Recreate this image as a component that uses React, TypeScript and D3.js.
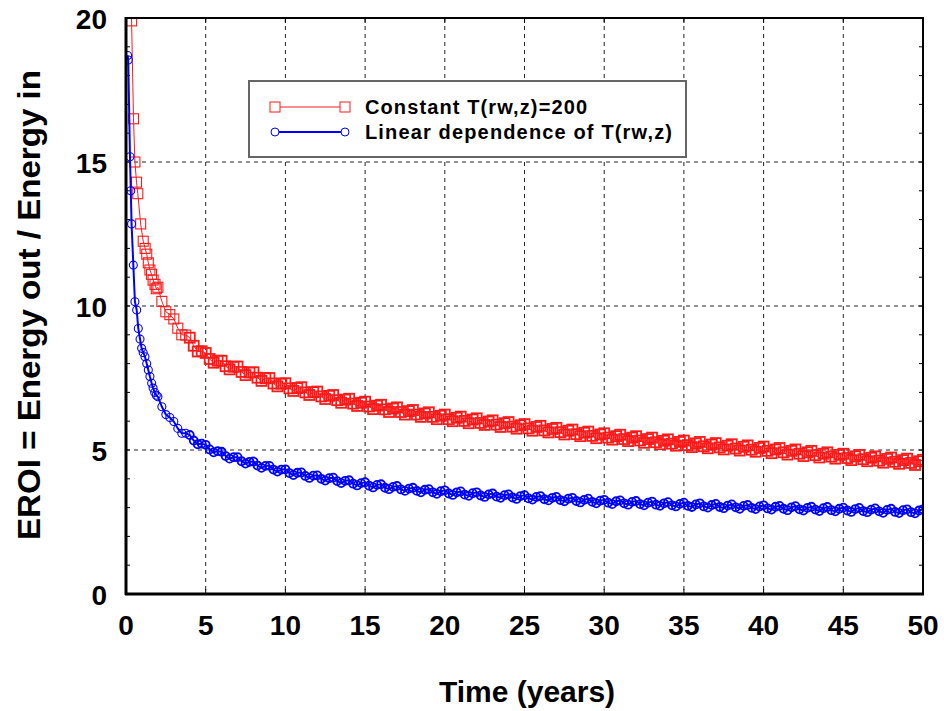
import React from "react";
import * as d3 from "d3";

// early samples
const redEarlyYears = [0.3, 0.35, 0.47, 0.56, 0.66, 0.74, 0.92, 1.08, 1.2, 1.3, 1.4, 1.5, 1.6, 1.7, 1.82, 1.9];
const redEarlyEroi = [21, 19.9, 16.5, 15.0, 14.3, 13.9, 12.85, 12.25, 12.0, 11.8, 11.5, 11.25, 11.1, 10.9, 10.75, 10.6];

const blueEarlyYears = [0.1, 0.14, 0.25, 0.3, 0.35, 0.46, 0.56, 0.67, 0.77, 0.88, 0.98, 1.08, 1.19, 1.3, 1.4, 1.5, 1.61, 1.7, 1.8, 1.9];
const blueEarlyEroi = [18.7, 18.54, 15.18, 14.0, 12.85, 11.42, 10.15, 9.86, 9.22, 8.85, 8.53, 8.38, 8.24, 8.0, 7.78, 7.55, 7.32, 7.15, 7.0, 6.9];

// quarterly samples from year 2 to year 50
const tailStartYear = 2;
const tailStepYears = 0.25;

const redTailEroi = [
  10.65, 10.16, 9.8, 9.7, 9.55, 9.23, 9.0, 8.99, 8.9, 8.62, 8.42, 8.43, 8.37, 8.16, 8.03, 8.1,
  8.1, 7.91, 7.8, 7.89, 7.9, 7.71, 7.6, 7.69, 7.7, 7.51, 7.4, 7.49, 7.5, 7.31, 7.21, 7.3,
  7.32, 7.14, 7.05, 7.15, 7.18, 7.0, 6.91, 7.01, 7.03, 6.86, 6.77, 6.88, 6.91, 6.73, 6.64, 6.75,
  6.78, 6.61, 6.53, 6.64, 6.68, 6.51, 6.42, 6.54, 6.57, 6.41, 6.32, 6.44, 6.48, 6.32, 6.23, 6.35,
  6.39, 6.23, 6.15, 6.27, 6.31, 6.15, 6.07, 6.19, 6.23, 6.07, 6.0, 6.12, 6.16, 6.01, 5.93, 6.06,
  6.1, 5.94, 5.87, 5.99, 6.03, 5.88, 5.8, 5.93, 5.97, 5.81, 5.74, 5.86, 5.9, 5.75, 5.67, 5.8,
  5.84, 5.68, 5.61, 5.73, 5.77, 5.62, 5.54, 5.67, 5.71, 5.55, 5.48, 5.6, 5.64, 5.49, 5.41, 5.54,
  5.58, 5.43, 5.36, 5.48, 5.53, 5.38, 5.31, 5.43, 5.48, 5.33, 5.25, 5.38, 5.43, 5.27, 5.2, 5.32,
  5.37, 5.22, 5.15, 5.28, 5.33, 5.17, 5.1, 5.23, 5.28, 5.13, 5.06, 5.19, 5.24, 5.09, 5.02, 5.15,
  5.2, 5.05, 4.98, 5.11, 5.16, 5.01, 4.94, 5.07, 5.12, 4.97, 4.89, 5.02, 5.07, 4.92, 4.84, 4.97,
  5.02, 4.87, 4.79, 4.92, 4.97, 4.82, 4.74, 4.87, 4.92, 4.77, 4.7, 4.83, 4.87, 4.72, 4.65, 4.78,
  4.83, 4.68, 4.61, 4.73, 4.78, 4.63, 4.56, 4.69, 4.74, 4.59, 4.52, 4.65, 4.7, 4.55, 4.48, 4.61,
  4.66,
];

const blueTailEroi = [
  6.85, 6.5, 6.23, 6.13, 5.99, 5.75, 5.58, 5.58, 5.52, 5.33, 5.2, 5.22, 5.18, 5.02, 4.92, 4.96,
  4.94, 4.79, 4.7, 4.75, 4.75, 4.61, 4.53, 4.59, 4.6, 4.46, 4.38, 4.45, 4.45, 4.32, 4.25, 4.32,
  4.33, 4.2, 4.13, 4.21, 4.22, 4.1, 4.03, 4.11, 4.12, 4.0, 3.94, 4.02, 4.04, 3.92, 3.85, 3.93,
  3.95, 3.83, 3.77, 3.85, 3.88, 3.76, 3.7, 3.79, 3.81, 3.69, 3.64, 3.72, 3.75, 3.63, 3.58, 3.66,
  3.69, 3.58, 3.53, 3.62, 3.64, 3.53, 3.48, 3.57, 3.6, 3.49, 3.44, 3.53, 3.56, 3.45, 3.41, 3.5,
  3.53, 3.42, 3.37, 3.46, 3.49, 3.38, 3.34, 3.43, 3.46, 3.35, 3.3, 3.4, 3.43, 3.32, 3.28, 3.37,
  3.4, 3.29, 3.25, 3.34, 3.37, 3.26, 3.22, 3.31, 3.34, 3.23, 3.18, 3.27, 3.31, 3.2, 3.15, 3.24,
  3.27, 3.17, 3.12, 3.22, 3.25, 3.15, 3.1, 3.2, 3.23, 3.12, 3.08, 3.17, 3.21, 3.1, 3.06, 3.15,
  3.19, 3.08, 3.04, 3.13, 3.17, 3.06, 3.02, 3.11, 3.15, 3.04, 3.0, 3.09, 3.13, 3.02, 2.98, 3.07,
  3.11, 3.01, 2.96, 3.06, 3.09, 2.99, 2.95, 3.04, 3.08, 2.97, 2.93, 3.03, 3.06, 2.96, 2.91, 3.01,
  3.05, 2.94, 2.9, 2.99, 3.03, 2.93, 2.88, 2.98, 3.02, 2.91, 2.87, 2.96, 3.0, 2.9, 2.85, 2.95,
  2.99, 2.88, 2.84, 2.93, 2.97, 2.87, 2.82, 2.92, 2.96, 2.85, 2.81, 2.91, 2.94, 2.84, 2.8, 2.9,
  2.94,
];

const xTicks = [0, 5, 10, 15, 20, 25, 30, 35, 40, 45, 50];
const yTicks = [0, 5, 10, 15, 20];
const yMinorTicks = [1, 2, 3, 4, 6, 7, 8, 9, 11, 12, 13, 14, 16, 17, 18, 19];

const legendLabels = ["Constant T(rw,z)=200", "Linear dependence of T(rw,z)"];

const RED = "#ff1a1a";
const BLUE = "#0000ff";
const FONT = "'Liberation Sans', Arial, Helvetica, sans-serif";

type Pt = { t: number; v: number };

function buildSeries(years: number[], early: number[], tail: number[]): Pt[] {
  const pts = years.map((t, i) => ({ t, v: early[i] }));
  tail.forEach((v, i) => pts.push({ t: tailStartYear + i * tailStepYears, v }));
  return pts;
}

const redData = buildSeries(redEarlyYears, redEarlyEroi, redTailEroi);
const blueData = buildSeries(blueEarlyYears, blueEarlyEroi, blueTailEroi);

// markers pile up into a solid band once the curve flattens
const markerStroke = (t: number) => (t < 4 ? 1.1 : 1.8);

export default function App() {
  const width = 944;
  const height = 711;
  const margin = { left: 126, right: 21, top: 18, bottom: 117 };
  const plotW = width - margin.left - margin.right;
  const plotH = height - margin.top - margin.bottom;

  const x = d3.scaleLinear().domain([0, 50]).range([margin.left, margin.left + plotW]);
  const y = d3.scaleLinear().domain([0, 20]).range([margin.top + plotH, margin.top]);

  const line = d3
    .line<Pt>()
    .x((d) => x(d.t))
    .y((d) => y(d.v));

  const x0 = x(0);
  const x1 = x(50);
  const y0 = y(0);
  const y1 = y(20);

  // legend
  const lg = { x: 249, y: 81, w: 437, h: 76 };

  return (
    <svg width={width} height={height} style={{ display: "block", position: "absolute", left: 0, top: 0 }}>
      <defs>
        <clipPath id="plotClip">
          <rect x={x0} y={y1} width={x1 - x0} height={y0 - y1} />
        </clipPath>
      </defs>
      <rect width={width} height={height} fill="#fff" />

      {/* grid */}
      <g stroke="#222" strokeWidth={1} strokeDasharray="4,4">
        {xTicks.slice(1, -1).map((t) => (
          <line key={"gx" + t} x1={x(t)} x2={x(t)} y1={y1} y2={y0} />
        ))}
        {yTicks.slice(1, -1).map((t) => (
          <line key={"gy" + t} x1={x0} x2={x1} y1={y(t)} y2={y(t)} />
        ))}
      </g>

      {/* tick marks */}
      <g stroke="#000" strokeWidth={1}>
        {xTicks.map((t) => (
          <g key={"tx" + t}>
            <line x1={x(t)} x2={x(t)} y1={y0} y2={y0 - 5} />
            <line x1={x(t)} x2={x(t)} y1={y1} y2={y1 + 5} />
          </g>
        ))}
        {yTicks.concat(yMinorTicks).map((t) => (
          <g key={"ty" + t}>
            <line x1={x0} x2={x0 + 4} y1={y(t)} y2={y(t)} />
            <line x1={x1} x2={x1 - 4} y1={y(t)} y2={y(t)} />
          </g>
        ))}
      </g>

      {/* series */}
      <g clipPath="url(#plotClip)">
        <path d={line(redData) || ""} fill="none" stroke={RED} strokeWidth={1} />
        {redData.map((d, i) => (
          <rect
            key={"r" + i}
            x={x(d.t) - 5}
            y={y(d.v) - 5}
            width={10}
            height={10}
            fill="none"
            stroke={RED}
            strokeWidth={markerStroke(d.t)}
          />
        ))}
        <path d={line(blueData) || ""} fill="none" stroke={BLUE} strokeWidth={2} />
        {blueData.map((d, i) => (
          <circle
            key={"b" + i}
            cx={x(d.t)}
            cy={y(d.v)}
            r={4}
            fill="none"
            stroke={BLUE}
            strokeWidth={markerStroke(d.t)}
          />
        ))}
      </g>

      {/* frame */}
      <rect x={x0} y={y1} width={x1 - x0} height={y0 - y1} fill="none" stroke="#000" strokeWidth={2} />
      <line x1={x0} x2={x0} y1={y1 - 1} y2={y0 + 1} stroke="#000" strokeWidth={3} />
      <line x1={x0 - 1} x2={x1 + 1} y1={y0} y2={y0} stroke="#000" strokeWidth={3} />

      {/* tick labels */}
      <g fontFamily={FONT} fontWeight="bold" fontSize={28} fill="#000">
        {xTicks.map((t) => (
          <text key={"lx" + t} x={x(t)} y={y0 + 41} textAnchor="middle">
            {t}
          </text>
        ))}
        {yTicks.map((t) => (
          <text key={"ly" + t} x={x0 - 19} y={y(t) + 11} textAnchor="end">
            {t}
          </text>
        ))}
      </g>

      {/* axis titles */}
      <text x={527} y={702} textAnchor="middle" fontFamily={FONT} fontWeight="bold" fontSize={30}>
        Time (years)
      </text>
      <text
        transform="translate(40,305) rotate(-90)"
        textAnchor="middle"
        fontFamily={FONT}
        fontWeight="bold"
        fontSize={31}
        textLength={470}
        lengthAdjust="spacingAndGlyphs"
      >
        EROI = Energy out / Energy in
      </text>

      {/* legend */}
      <rect x={lg.x} y={lg.y} width={lg.w} height={lg.h} fill="#fff" stroke="#666" strokeWidth={2} />
      <line x1={275} x2={345} y1={107} y2={107} stroke={RED} strokeWidth={1} />
      <rect x={270} y={102} width={10} height={10} fill="#fff" stroke={RED} />
      <rect x={340} y={102} width={10} height={10} fill="#fff" stroke={RED} />
      <line x1={275} x2={345} y1={132} y2={132} stroke={BLUE} strokeWidth={2} />
      <circle cx={275} cy={132} r={4} fill="#fff" stroke={BLUE} />
      <circle cx={345} cy={132} r={4} fill="#fff" stroke={BLUE} />
      <g fontFamily={FONT} fontWeight="bold" fontSize={20} fill="#000">
        <text x={365} y={114} textLength={222} lengthAdjust="spacing">
          {legendLabels[0]}
        </text>
        <text x={365} y={139} textLength={307} lengthAdjust="spacing">
          {legendLabels[1]}
        </text>
      </g>
    </svg>
  );
}
